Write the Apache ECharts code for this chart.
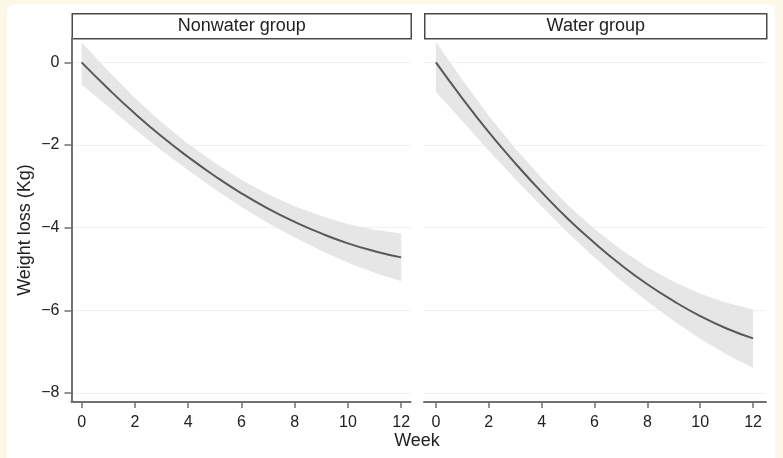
<!DOCTYPE html>
<html><head><meta charset="utf-8">
<script src="https://cdn.jsdelivr.net/npm/echarts@6/dist/echarts.min.js"></script>
<style>
html,body{margin:0;padding:0;width:783px;height:458px;background:#fcf7e6;overflow:hidden}
#card{position:absolute;left:7px;top:4px;width:768px;height:470px;background:#fff;border-radius:8px}
#chart{position:absolute;left:0;top:0;width:783px;height:458px}
</style></head><body><div id="card"></div><div id="chart"></div>
<script>
const weeks = [0,1,2,3,4,5,6,7,8,9,10,11,12];
const panelTitles = ['Nonwater group','Water group'];
const xTicks = [0,2,4,6,8,10,12];
const yTicks = [0,-2,-4,-6,-8];
const nonwaterFit   = [0,-0.64,-1.24,-1.79,-2.29,-2.75,-3.17,-3.54,-3.86,-4.14,-4.38,-4.57,-4.72];
const nonwaterUpper = [0.48,-0.21,-0.86,-1.45,-1.97,-2.43,-2.84,-3.19,-3.48,-3.72,-3.91,-4.05,-4.14];
const nonwaterLower = [-0.54,-1.07,-1.62,-2.13,-2.61,-3.07,-3.50,-3.89,-4.24,-4.56,-4.85,-5.09,-5.30];
const waterFit   = [0,-0.87,-1.69,-2.44,-3.14,-3.79,-4.37,-4.90,-5.37,-5.78,-6.14,-6.44,-6.68];
const waterUpper = [0.50,-0.42,-1.29,-2.08,-2.80,-3.46,-4.03,-4.53,-4.96,-5.31,-5.60,-5.82,-5.98];
const waterLower = [-0.72,-1.42,-2.14,-2.82,-3.49,-4.13,-4.72,-5.28,-5.79,-6.26,-6.69,-7.07,-7.40];

const FONT = '"Liberation Sans", Arial, Helvetica, sans-serif';
const axisColor = '#707070';
const fmtY = v => v < 0 ? '\u2212' + Math.abs(v) : String(v);

const panels = [
  {fit: nonwaterFit, upper: nonwaterUpper, lower: nonwaterLower},
  {fit: waterFit, upper: waterUpper, lower: waterLower}
];

const grids = [
  {left: 71.5, top: 38, width: 339, height: 364},
  {left: 424, top: 38, width: 342, height: 364}
];

function xAxisFor(i, min, max) {
  return {
    type: 'value', gridIndex: i, min: min, max: max,
    axisLine: {show: true, onZero: false, lineStyle: {color: axisColor, width: 2}},
    axisTick: {show: true, length: 6, customValues: xTicks, lineStyle: {color: axisColor, width: 1.5}},
    axisLabel: {customValues: xTicks, fontSize: 16, color: '#222', margin: 13, fontFamily: FONT},
    splitLine: {show: false}
  };
}
function yAxisFor(i, showAxis) {
  return {
    type: 'value', gridIndex: i, min: -8.22, max: 0.59,
    axisLine: {show: showAxis, onZero: false, lineStyle: {color: axisColor, width: 2}},
    axisTick: {show: showAxis, length: 7, customValues: yTicks, lineStyle: {color: axisColor, width: 1.5}},
    axisLabel: {show: showAxis, customValues: yTicks, formatter: fmtY, fontSize: 16, color: '#222', margin: 12, fontFamily: FONT},
    splitLine: {show: true, lineStyle: {color: '#f1f1f1', width: 1}}
  };
}

const series = [];
panels.forEach((p, i) => {
  series.push({
    type: 'custom', xAxisIndex: i, yAxisIndex: i, silent: true, z: 1,
    data: weeks.map((w, k) => [w, p.lower[k], p.upper[k]]),
    renderItem: function (params, api) {
      if (params.dataIndex !== 0) return null;
      const pts = [];
      for (let k = 0; k < weeks.length; k++) pts.push(api.coord([weeks[k], p.upper[k]]));
      for (let k = weeks.length - 1; k >= 0; k--) pts.push(api.coord([weeks[k], p.lower[k]]));
      return {
        type: 'polygon',
        shape: {points: pts},
        style: {fill: '#e6e6e6', stroke: null}
      };
    }
  });
  series.push({
    type: 'line', xAxisIndex: i, yAxisIndex: i,
    data: weeks.map((w, k) => [w, p.fit[k]]),
    symbol: 'none', smooth: true, lineStyle: {color: '#595959', width: 2}, z: 5
  });
});

const graphic = grids.map((g, i) => ({
  type: 'group', left: g.left, top: 13,
  children: [
    {type: 'rect', shape: {x: 0, y: 0, width: g.width, height: 25},
     style: {fill: '#fff', stroke: '#4a4a4a', lineWidth: 1.5}},
    {type: 'text', x: g.width / 2, y: 12.5,
     style: {text: panelTitles[i], fill: '#222', font: '18px ' + FONT, align: 'center', verticalAlign: 'middle'}}
  ]
}));
graphic.push({
  type: 'text', x: 417, y: 441,
  style: {text: 'Week', fill: '#222', font: '18px ' + FONT, align: 'center', verticalAlign: 'middle'}
});
graphic.push({
  type: 'text', x: 25, y: 230, rotation: Math.PI / 2,
  style: {text: 'Weight loss (Kg)', fill: '#222', font: '18px ' + FONT, align: 'center', verticalAlign: 'middle'}
});

const chart = echarts.init(document.getElementById('chart'));
chart.setOption({
  animation: false,
  backgroundColor: 'transparent',
  grid: grids,
  xAxis: [xAxisFor(0, -0.38, 12.35), xAxisFor(1, -0.45, 12.49)],
  yAxis: [yAxisFor(0, true), yAxisFor(1, false)],
  series: series,
  graphic: graphic
});
</script></body></html>
